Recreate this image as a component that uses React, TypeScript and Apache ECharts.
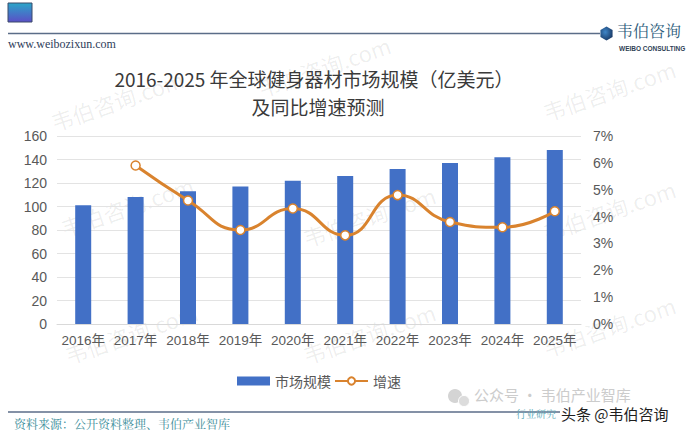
import React, { useEffect, useRef } from "react";
import * as echarts from "echarts";

const categories = ["2016年", "2017年", "2018年", "2019年", "2020年", "2021年", "2022年", "2023年", "2024年", "2025年"];
const marketSize = [101, 108, 113, 117, 122, 126, 132, 137, 142, 148];
const growth = [null, 5.9, 4.6, 3.5, 4.3, 3.3, 4.8, 3.8, 3.6, 4.2];
const leftTicks = { min: 0, max: 160, interval: 20 };
const rightTicks = { min: 0, max: 7, interval: 1 };

const titleLine1 = "2016-2025 年全球健身器材市场规模（亿美元）";
const titleLine2 = "及同比增速预测";

const watermarkPos: [number, number][] = [
  [48, 112], [255, 78], [540, 102],
  [58, 218], [300, 228], [540, 222],
  [62, 345], [300, 345], [540, 338],
];

const SANS = "'Liberation Sans', Arial, 'Noto Sans CJK SC', sans-serif";
const CJK = "'Noto Sans CJK SC', 'Noto Sans', sans-serif";
const SERIF = "'Liberation Serif', 'Noto Serif CJK SC', 'Noto Sans CJK SC', serif";

export default function App() {
  const ref = useRef<HTMLDivElement>(null);
  useEffect(() => {
    if (!ref.current) return;
    const chart = echarts.init(ref.current, null, { renderer: "svg" });
    const watermarks = watermarkPos.map(([x, y]) => ({
      type: "text",
      x,
      y,
      rotation: 0.33,
      z: 0,
      silent: true,
      style: { text: "韦伯咨询.com", fill: "rgba(0,0,0,0.07)", font: `22px ${CJK}` },
    }));
    const hexR = 7;
    const hexPts: number[][] = [];
    for (let i = 0; i < 6; i++) {
      const a = Math.PI / 6 + (i * Math.PI) / 3;
      hexPts.push([606.5 + hexR * Math.cos(a), 33.5 + hexR * Math.sin(a)]);
    }
    chart.setOption({
      animation: false,
      backgroundColor: "#ffffff",
      textStyle: { fontFamily: SANS },
      grid: { left: 57, right: 119, top: 136, bottom: 112 },
      legend: {
        left: 232,
        top: 369,
        itemWidth: 33,
        itemHeight: 9,
        itemGap: 3,
        textStyle: { fontSize: 14, color: "#595959", fontFamily: CJK },
        data: [
          { name: "市场规模", icon: "rect" },
          { name: "增速" },
        ],
      },
      xAxis: {
        type: "category",
        data: categories,
        axisLine: { lineStyle: { color: "#d9d9d9" } },
        axisTick: { show: false },
        axisLabel: { color: "#595959", fontSize: 13.5, margin: 10, interval: 0, fontFamily: SANS },
      },
      yAxis: [
        {
          type: "value",
          min: leftTicks.min,
          max: leftTicks.max,
          interval: leftTicks.interval,
          axisLine: { show: false },
          axisTick: { show: false },
          splitLine: { lineStyle: { color: "#e3e3e3" } },
          axisLabel: { color: "#595959", fontSize: 14, margin: 10 },
        },
        {
          type: "value",
          min: rightTicks.min,
          max: rightTicks.max,
          interval: rightTicks.interval,
          axisLine: { show: false },
          axisTick: { show: false },
          splitLine: { show: false },
          axisLabel: { color: "#595959", fontSize: 14, margin: 12, formatter: "{value}%" },
        },
      ],
      series: [
        {
          name: "市场规模",
          type: "bar",
          data: marketSize,
          barWidth: 16,
          itemStyle: { color: "#4270c6" },
        },
        {
          name: "增速",
          type: "line",
          yAxisIndex: 1,
          data: growth,
          smooth: true,
          symbol: "circle",
          symbolSize: 9,
          lineStyle: { color: "#d9832e", width: 3 },
          itemStyle: { color: "#ffffff", borderColor: "#d9832e", borderWidth: 1.5 },
          z: 3,
        },
      ],
      graphic: [
        ...watermarks,
        {
          type: "rect",
          shape: { x: 8, y: 3, width: 24, height: 19 },
          style: {
            fill: new echarts.graphic.LinearGradient(0, 0, 0, 1, [
              { offset: 0, color: "#2aa6c9" },
              { offset: 1, color: "#5b4fc6" },
            ]),
            stroke: "#3a4a6a",
            lineWidth: 1,
          },
        },
        {
          type: "line",
          shape: { x1: 8, y1: 33.5, x2: 600, y2: 33.5 },
          style: { stroke: "#5b6d88", lineWidth: 1.5 },
        },
        {
          type: "polygon",
          shape: { points: hexPts },
          style: {
            fill: new echarts.graphic.RadialGradient(0.4, 0.4, 0.7, [
              { offset: 0, color: "#3f86c8" },
              { offset: 1, color: "#16335e" },
            ]),
          },
        },
        {
          type: "text",
          x: 617,
          y: 31.5,
          style: { text: "韦伯咨询", fill: "#2e5d7c", font: `16px ${SERIF}`, verticalAlign: "middle" },
        },
        {
          type: "text",
          x: 619,
          y: 48,
          style: { text: "WEIBO CONSULTING", fill: "#2f3f55", font: `bold 6.5px ${SANS}`, verticalAlign: "middle" },
        },
        {
          type: "text",
          x: 8,
          y: 44,
          style: { text: "www.weibozixun.com", fill: "#2e3d5a", font: `12px ${SERIF}`, verticalAlign: "middle" },
        },
        {
          type: "text",
          x: 314,
          y: 78,
          style: { text: titleLine1, fill: "#3a3a3a", font: `19px ${CJK}`, align: "center", verticalAlign: "middle" },
        },
        {
          type: "text",
          x: 318,
          y: 106,
          style: { text: titleLine2, fill: "#3a3a3a", font: `19px ${CJK}`, align: "center", verticalAlign: "middle" },
        },
        {
          type: "line",
          shape: { x1: 8, y1: 412, x2: 560, y2: 412 },
          style: { stroke: "#5b6d88", lineWidth: 1.5 },
        },
        {
          type: "text",
          x: 14,
          y: 425,
          style: { text: "资料来源：公开资料整理、韦伯产业智库", fill: "#3a8d99", font: `12px ${SERIF}`, verticalAlign: "middle" },
        },
        {
          type: "circle",
          shape: { cx: 455, cy: 396, r: 7 },
          style: { fill: "#d4d4d4" },
        },
        {
          type: "circle",
          shape: { cx: 464, cy: 401, r: 5.5 },
          style: { fill: "#dcdcdc", stroke: "#ffffff", lineWidth: 1 },
        },
        {
          type: "text",
          x: 474,
          y: 394,
          style: { text: "公众号 · 韦伯产业智库", fill: "#cccccc", font: `15px ${CJK}`, verticalAlign: "middle" },
        },
        {
          type: "text",
          x: 516,
          y: 414,
          style: { text: "行业研究", fill: "#5aa9b8", font: `10px ${SERIF}`, verticalAlign: "middle" },
        },
        {
          type: "text",
          x: 561,
          y: 413,
          style: {
            text: "头条 @韦伯咨询",
            fill: "#1e1e1e",
            font: `15px ${CJK}`,
            verticalAlign: "middle",
            stroke: "#ffffff",
            lineWidth: 2,
          },
        },
      ],
    });
    return () => chart.dispose();
  }, []);
  return (
    <div
      ref={ref}
      style={{ position: "fixed", left: 0, top: 0, width: 700, height: 436, background: "#fff" }}
    />
  );
}
